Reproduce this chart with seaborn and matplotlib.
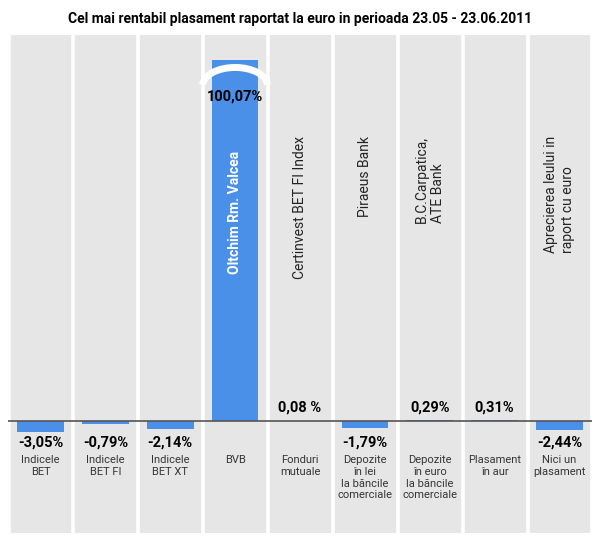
import pandas as pd
import seaborn as sns
import matplotlib.pyplot as plt
from matplotlib.patches import Arc

categories = ["Indicele\nBET", "Indicele\nBET FI", "Indicele\nBET XT", "BVB", "Fonduri\nmutuale",
              "Depozite\nîn lei\nla băncile\ncomerciale", "Depozite\nîn euro\nla băncile\ncomerciale",
              "Plasament\nîn aur", "Nici un\nplasament"]
names = ["", "", "", "Oltchim Rm. Valcea", "Certinvest BET FI Index", "Piraeus Bank",
         "B.C.Carpatica,\nATE Bank", "", "Aprecierea leului in\nraport cu euro"]
values = [-3.05, -0.79, -2.14, 100.07, 0.08, -1.79, 0.29, 0.31, -2.44]
labels = ["-3,05%", "-0,79%", "-2,14%", "100,07%", "0,08 %", "-1,79%", "0,29%", "0,31%", "-2,44%"]

df = pd.DataFrame({"cat": range(len(values)), "val": values})
plt.rcParams["font.family"] = "Roboto"

fig = plt.figure(figsize=(6, 5.4), dpi=100)
ax = fig.add_axes([8 / 600, 7 / 540, 584 / 600, 498 / 540])
blue = "#4a8fe8"
for i in range(len(values)):
    ax.axvspan(i - 0.46, i + 0.46, color="#e6e6e6", zorder=0)
sns.barplot(data=df, x="cat", y="val", color=blue, width=0.72, saturation=1, ax=ax, zorder=2)
ax.set_xlim(-0.5, len(values) - 0.5)
ax.set_ylim(-31, 107)
ax.axhline(0, color="#555555", lw=1.2, zorder=3)
ax.axis("off")

# break mark on the clipped BVB bar
ax.add_patch(Arc((3, 93), 1.0, 10, theta1=25, theta2=155, color="white", lw=5, zorder=4))

for i, v in enumerate(values):
    if i == 3:
        ax.text(i, 90, labels[i], ha="center", va="center", fontsize=10.5, fontweight="bold", zorder=5)
    elif v < 0:
        ax.text(i, -6, labels[i], ha="center", va="center", fontsize=10.5, fontweight="bold")
    else:
        ax.text(i, 3.8, labels[i], ha="center", va="center", fontsize=10.5, fontweight="bold")
    ax.text(i, -9.5, categories[i], ha="center", va="top", fontsize=8, color="#333333", linespacing=1.2)
    if names[i]:
        top = 75 if i == 3 else 79
        ax.text(i, top, names[i], rotation=90, ha="center", va="top", fontsize=10,
                color="white" if i == 3 else "#222222", fontweight="bold" if i == 3 else "normal",
                multialignment="left", zorder=5)

fig.text(0.5, 0.965, "Cel mai rentabil plasament raportat la euro in perioada 23.05 - 23.06.2011",
         ha="center", va="center", fontsize=10, fontweight="bold")
fig.savefig("out.png", dpi=100)
